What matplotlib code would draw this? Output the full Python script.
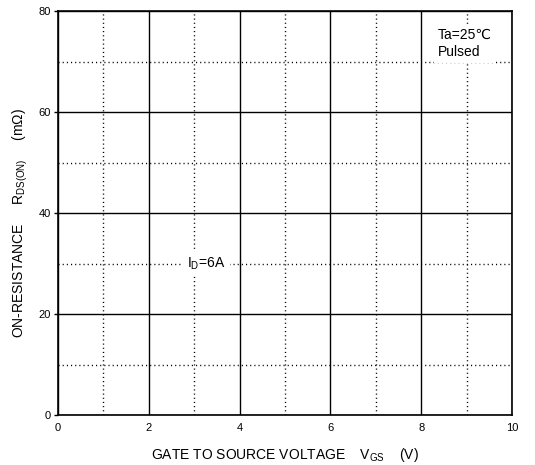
import matplotlib
matplotlib.use("Agg")
import matplotlib.pyplot as plt

# axis ranges / ticks
x_major = [0, 2, 4, 6, 8, 10]
x_minor = [1, 3, 5, 7, 9]
y_major = [0, 20, 40, 60, 80]
y_minor = [10, 30, 50, 70]

x_label = r"GATE TO SOURCE VOLTAGE    V$_{\mathregular{GS}}$    (V)"
y_label = r"ON-RESISTANCE     R$_{\mathregular{DS(ON)}}$     (m$\mathregular{\Omega}$)"
cond_text = "Ta=25\u2103\nPulsed"
id_text = r"I$_{\mathregular{D}}$=6A"

plt.rcParams['font.family'] = ['Liberation Sans', 'DejaVu Sans']
plt.rcParams['mathtext.fontset'] = 'custom'
plt.rcParams['mathtext.rm'] = 'Liberation Sans'

fig = plt.figure(figsize=(5.35, 4.65), dpi=100)
ax = fig.add_axes([0.1084, 0.1075, 0.8486, 0.8688])

ax.set_xlim(0, 10)
ax.set_ylim(0, 80)
ax.set_xticks(x_major)
ax.set_yticks(y_major)
ax.set_xticks(x_minor, minor=True)
ax.set_yticks(y_minor, minor=True)

ax.grid(which='major', color='black', linewidth=1.0, linestyle='-')
ax.grid(which='minor', color='black', linewidth=1.0, linestyle=(0, (0.8, 2.2)))
ax.set_axisbelow(True)

ax.tick_params(axis='x', which='major', length=0, pad=6, labelsize=8)
ax.tick_params(axis='y', which='major', length=3, width=1, pad=2, labelsize=8)
ax.tick_params(which='minor', length=0)

for s in ax.spines.values():
    s.set_linewidth(1.2)
    s.set_color('black')

ax.set_xlabel(x_label, fontsize=10, labelpad=9)
ax.set_ylabel(y_label, fontsize=10)
ax.yaxis.set_label_coords(-0.061, 0.475)

ax.text(8.37, 73.6, cond_text, fontsize=10, ha='left', va='center', linespacing=1.3,
        bbox=dict(facecolor='white', edgecolor='none', pad=3))
ax.text(2.85, 30.0, id_text, fontsize=10, ha='left', va='center',
        bbox=dict(facecolor='white', edgecolor='none', pad=3))

fig.savefig("out.png", dpi=100)
